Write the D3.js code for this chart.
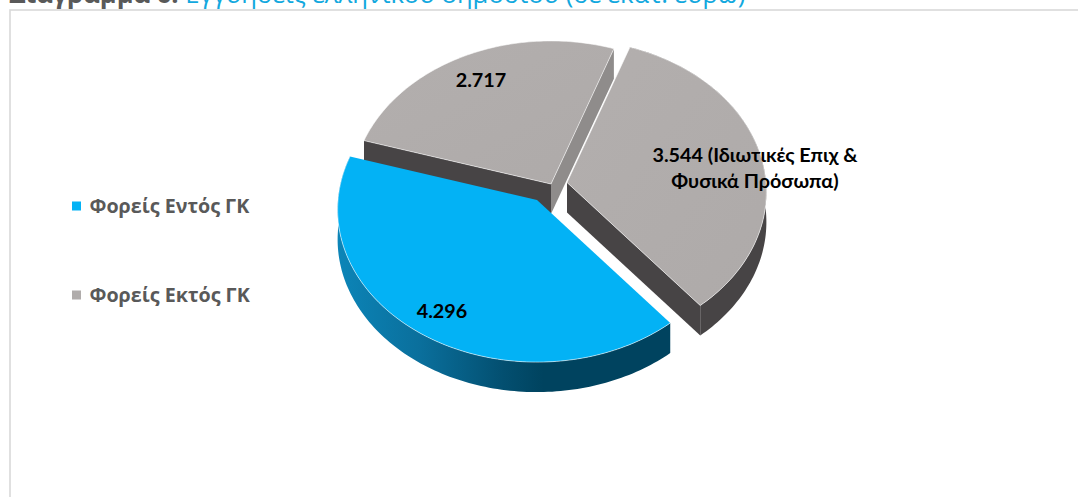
<!DOCTYPE html>
<html lang="el">
<head>
<meta charset="utf-8">
<script src="https://cdn.jsdelivr.net/npm/d3@7/dist/d3.min.js"></script>
<style>
html,body{margin:0;padding:0;background:#fff;overflow:hidden}
svg{display:block}
</style>
</head>
<body>
<svg id="chart" width="1078" height="497"></svg>
<script>
// Guarantees by holder, in millions of euro
const sliceValues = [4296, 2717, 3544];
const sliceGroups = ["inside", "outside", "outside"];
const sliceSuffix = ["", "", " (Ιδιωτικές Επιχ &"];
const sliceSecondLine = ["", "", "Φυσικά Πρόσωπα)"];
const legendLabels = ["Φορείς Εντός ΓΚ", "Φορείς Εκτός ΓΚ"];
const titleLead = "Διάγραμμα 6:";
const titleRest = "Εγγυήσεις ελληνικού δημοσίου (σε εκατ. ευρώ)";

const width = 1078, height = 497;
const svg = d3.select("#chart");
const fontBody = "'Open Sans', sans-serif";

// Pie geometry: tilted disc with slight perspective
const pieCentre = {x: 551, y: 184};
const radiusX = 199, radiusY = 152, perspective = 0.0623, depth = 30;
const startDeg = 140.4;
const explode = [[-14, 16], [0, 0], [16, -1.5]];
const labelAt = [[442, 318], [481, 87], [755, 162]];

const colour = d3.scaleOrdinal().domain(["inside", "outside"]).range(["#03b2f5", "#b0acab"]);

// Maps a clockwise-from-top angle and a radial fraction onto the tilted disc
function project(theta, r, off, drop) {
  const u = r * Math.sin(theta), v = -r * Math.cos(theta);
  const w = 1 - perspective * v;
  return [pieCentre.x + off[0] + radiusX * u / w,
          pieCentre.y + off[1] + radiusY * v / w + drop];
}
const line = d3.line();
const arcPoints = (a0, a1, off, drop) => {
  const n = Math.max(2, Math.ceil((a1 - a0) / 0.02));
  return d3.range(n + 1).map(i => project(a0 + (a1 - a0) * i / n, 1, off, drop));
};

const pieLayout = d3.pie().sort(null)
  .startAngle(startDeg * Math.PI / 180)
  .endAngle((startDeg + 360) * Math.PI / 180);
const arcs = pieLayout(sliceValues).map((d, i) => ({...d, off: explode[i], i}));

// Shading of the rim of the blue slice
const defs = svg.append("defs");
const rimGrad = defs.append("linearGradient").attr("id", "rimBlue")
  .attr("gradientUnits", "userSpaceOnUse")
  .attr("x1", 337).attr("x2", 670).attr("y1", 0).attr("y2", 0);
[[0, "#0c85b8"], [0.25, "#0a6f9c"], [0.5, "#034f70"], [0.62, "#00435f"], [1, "#00435f"]]
  .forEach(([o, c]) => rimGrad.append("stop").attr("offset", o).attr("stop-color", c));
const topGrey = defs.append("linearGradient").attr("id", "topGrey")
  .attr("x1", 0).attr("x2", 1).attr("y1", 0).attr("y2", 1);
[[0, "#b3afae"], [1, "#aeaaa9"]]
  .forEach(([o, c]) => topGrey.append("stop").attr("offset", o).attr("stop-color", c));

// Frame around the chart area
svg.append("rect").attr("x", 10).attr("y", 10)
  .attr("width", width + 20).attr("height", height + 20)
  .attr("fill", "none").attr("stroke", "#d9d9d9").attr("stroke-width", 1.6);

// Heading, partly running off the top edge
const title = svg.append("text").attr("x", 9).attr("y", 3)
  .attr("font-family", fontBody).attr("font-size", 25.6);
title.append("tspan").attr("font-weight", 700).attr("fill", "#595959").text(titleLead + " ");
title.append("tspan").attr("fill", "#12a8de").text(titleRest);

function drawSlice(s) {
  const g = svg.append("g");
  const apexTop = project(0, 0, s.off, 0), apexBot = project(0, 0, s.off, depth);
  const a0 = s.startAngle, a1 = s.endAngle;
  const isBlue = sliceGroups[s.i] === "inside";
  const cutFace = (a, fill) => g.append("path")
    .attr("d", line([apexTop, project(a, 1, s.off, 0), project(a, 1, s.off, depth), apexBot]) + "Z")
    .attr("fill", fill);

  // Straight cut faces only where they turn towards the viewer
  if (!isBlue) {
    if (s.i === 1) {
      cutFace(a0, "#474445");
      cutFace(a1, "#8f8c8b");
    } else {
      cutFace(a1, "#474445");
    }
  }
  // Outer rim
  if (s.i !== 1) {
    const rimTop = arcPoints(a0, a1, s.off, 0);
    const rimBot = arcPoints(a0, a1, s.off, depth).reverse();
    g.append("path").attr("d", line(rimTop.concat(rimBot)) + "Z")
      .attr("fill", isBlue ? "url(#rimBlue)" : "#474445");
  }
  // Upper face with its thin light edge
  const outline = [apexTop].concat(arcPoints(a0, a1, s.off, 0));
  g.append("path").attr("d", line(outline) + "Z")
    .attr("fill", isBlue ? colour("inside") : "url(#topGrey)");
  g.append("path").attr("d", line(isBlue ? arcPoints(a0, a1, s.off, 0) : outline.concat([apexTop])))
    .attr("fill", "none").attr("stroke", "#fff").attr("stroke-opacity", 0.55).attr("stroke-width", 1);
}
[arcs[1], arcs[2], arcs[0]].forEach(drawSlice);

// Value labels, with a dot as the thousands separator
const fmt = d3.formatLocale({decimal: ",", thousands: ".", grouping: [3], currency: ["", "€"]}).format(",d");
const labels = svg.append("g").attr("font-family", "Lato, 'Open Sans', sans-serif")
  .attr("font-weight", 700).attr("font-size", 19.8).attr("fill", "#000").attr("text-anchor", "middle");
arcs.forEach((s, i) => {
  const t = labels.append("text").attr("x", labelAt[i][0]).attr("y", labelAt[i][1]);
  t.append("tspan").text(fmt(s.value) + sliceSuffix[i]);
  if (sliceSecondLine[i]) t.append("tspan").attr("x", labelAt[i][0]).attr("dy", 26).text(sliceSecondLine[i]);
});

// Legend
const legendY = d3.scalePoint().domain(legendLabels).range([206, 295]);
const legend = svg.append("g").selectAll("g").data(legendLabels).join("g")
  .attr("transform", d => `translate(72,${legendY(d)})`);
legend.append("rect").attr("y", -4.5).attr("width", 9).attr("height", 9)
  .attr("fill", (d, i) => colour(["inside", "outside"][i]));
legend.append("text").attr("x", 17.5).attr("y", 6.5)
  .attr("font-family", fontBody).attr("font-weight", 700).attr("font-size", 19.7)
  .attr("fill", "#595959").text(d => d);
</script>
</body>
</html>
